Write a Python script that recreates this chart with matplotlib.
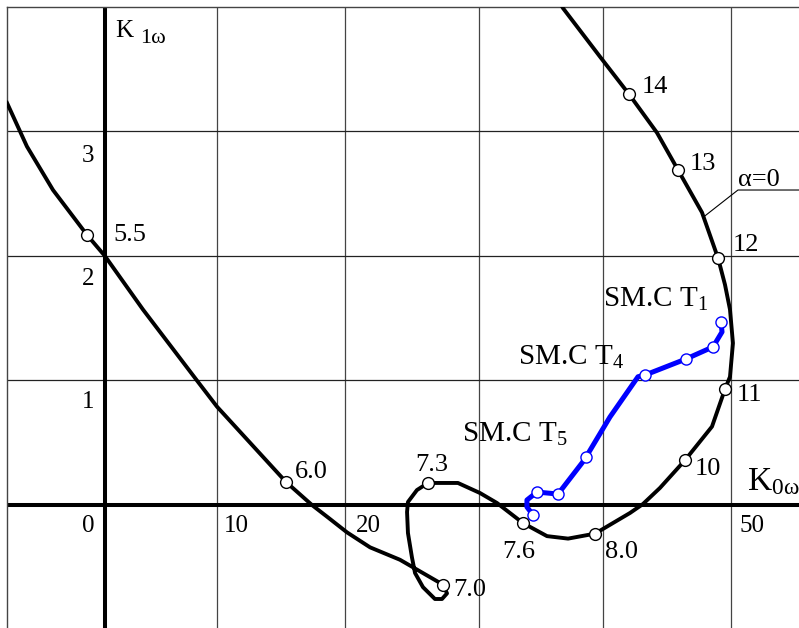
import matplotlib
matplotlib.use('Agg')
import matplotlib.pyplot as plt

plt.rcParams['font.family'] = ['Liberation Serif', 'DejaVu Serif']
plt.rcParams['mathtext.fontset'] = 'custom'
plt.rcParams['mathtext.rm'] = 'Liberation Serif'
plt.rcParams['mathtext.it'] = 'Liberation Serif:italic'

# alpha = 0 hodograph (K0w, K1w)
k0_curve = [-6.34, -4.79, -2.76, -0.12, 1.28, 4.24, 8.44, 10.0, 15.37, 17.39, 18.64,
            20.12, 21.91, 24.24, 27.59, 27.9, 27.51, 26.96, 26.03, 25.41, 25.17, 24.86,
            24.79, 24.86, 25.56, 26.42, 28.75, 30.47, 31.79, 33.81, 35.68, 37.32, 39.42,
            42.14, 43.15, 44.47, 46.42, 48.52, 49.53, 49.92, 50.15, 49.92, 49.53, 49.0,
            47.74, 45.88, 44.24, 42.06, 39.81, 36.93, 36.54]
k1_curve = [3.23, 2.88, 2.53, 2.17, 2.0, 1.57, 1.0, 0.79, 0.185, 0.0, -0.10,
            -0.22, -0.34, -0.44, -0.64, -0.71, -0.755, -0.755, -0.66, -0.546, -0.42, -0.225,
            -0.056, 0.024, 0.12, 0.177, 0.177, 0.096, 0.016, -0.145, -0.25, -0.27, -0.23,
            -0.064, 0.008, 0.137, 0.36, 0.63, 0.93, 1.03, 1.30, 1.57, 1.77, 1.98,
            2.35, 2.69, 2.99, 3.30, 3.60, 3.99, 4.06]

# frequency marks on the curve
freq_labels = ['5.5', '6.0', '7.0', '7.3', '7.6', '8.0', '10', '11', '12', '13', '14']
freq_k0 = [-0.12, 15.37, 27.59, 26.42, 33.81, 39.42, 46.42, 49.53, 49.0, 45.88, 42.06]
freq_k1 = [2.17, 0.185, -0.64, 0.177, -0.145, -0.23, 0.36, 0.93, 1.98, 2.69, 3.30]
label_dx = [26, 9, 10, -13, -21, 10, 10, 12, 15, 12, 13]
label_dy = [-6, 4, -11, 12, -35, -24, -15, -12, 7, 0, 1]

# SM.C points (blue)
k0_smc = [34.59, 34.12, 34.12, 34.90, 36.54, 38.40, 38.72, 40.58, 42.76, 43.31,
          46.50, 48.60, 49.30, 49.22]
k1_smc = [-0.08, -0.016, 0.04, 0.104, 0.088, 0.337, 0.386, 0.707, 1.03, 1.044,
          1.173, 1.27, 1.39, 1.47]
smc_marks = [0, 3, 4, 6, 9, 10, 11, 13]

fig = plt.figure(figsize=(7.99, 6.28), dpi=100)
ax = fig.add_axes([7 / 799, 0, 792 / 799, 621 / 628])
ax.set_xlim(-6.34, 55.29)
ax.set_ylim(-0.988, 4.0)

for s in ['right', 'bottom']:
    ax.spines[s].set_visible(False)
for s in ['left', 'top']:
    ax.spines[s].set_color('#444444')
    ax.spines[s].set_linewidth(1)
ax.set_xticks([])
ax.set_yticks([])

for gx in [10, 20, 30.4, 40, 50]:
    ax.axvline(gx, color='#444444', lw=0.9, zorder=1)
for gy in [1, 2, 3]:
    ax.axhline(gy, color='#222222', lw=0.9, zorder=1)

ax.axhline(0, color='k', lw=2.9, zorder=2)
ax.axvline(1.28, color='k', lw=2.9, zorder=2)

ax.plot(k0_curve, k1_curve, color='k', lw=2.8, zorder=3, solid_joinstyle='round')
ax.plot(freq_k0, freq_k1, 'o', ms=8.5, mfc='white', mec='k', mew=1, zorder=5)

ax.plot(k0_smc, k1_smc, color='#0000ff', lw=3.6, zorder=4, solid_joinstyle='round')
ax.plot([k0_smc[i] for i in smc_marks], [k1_smc[i] for i in smc_marks], 'o',
        ms=8, mfc='white', mec='#0000ff', mew=1, zorder=6)

for lab, x, y, dx, dy in zip(freq_labels, freq_k0, freq_k1, label_dx, label_dy):
    ax.annotate(lab, (x, y), xytext=(dx, dy), textcoords='offset pixels',
                ha='left', va='baseline', fontsize=19)

# alpha=0 leader
ax.plot([47.82, 50.54, 55.29], [2.31, 2.53, 2.53], color='k', lw=0.8, zorder=3)
ax.text(50.54, 2.56, 'α=0', ha='left', va='baseline', fontsize=19)

ax.text(40.04, 1.59, r'SM.C T$_{\mathrm{1}}$', ha='left', va='baseline', fontsize=21)
ax.text(33.42, 1.125, r'SM.C T$_{\mathrm{4}}$', ha='left', va='baseline', fontsize=21)
ax.text(29.07, 0.506, r'SM.C T$_{\mathrm{5}}$', ha='left', va='baseline', fontsize=21)

ax.text(51.25, 0.12, r'K$_{\mathrm{0ω}}$', ha='left', va='baseline', fontsize=24)
ax.text(2.06, 3.76, 'K', ha='left', va='baseline', fontsize=18)
ax.text(4.01, 3.71, '1ω', ha='left', va='baseline', fontsize=16)

# tick labels
for lab, x in zip(['0', '10', '20', '50'], [-0.04, 11.48, 21.75, 51.63]):
    ax.text(x, -0.217, lab, ha='center', va='baseline', fontsize=18)
for lab, y in zip(['3', '2', '1'], [2.755, 1.767, 0.78]):
    ax.text(-0.04, y, lab, ha='center', va='baseline', fontsize=18)

fig.savefig('out.png', dpi=100)
